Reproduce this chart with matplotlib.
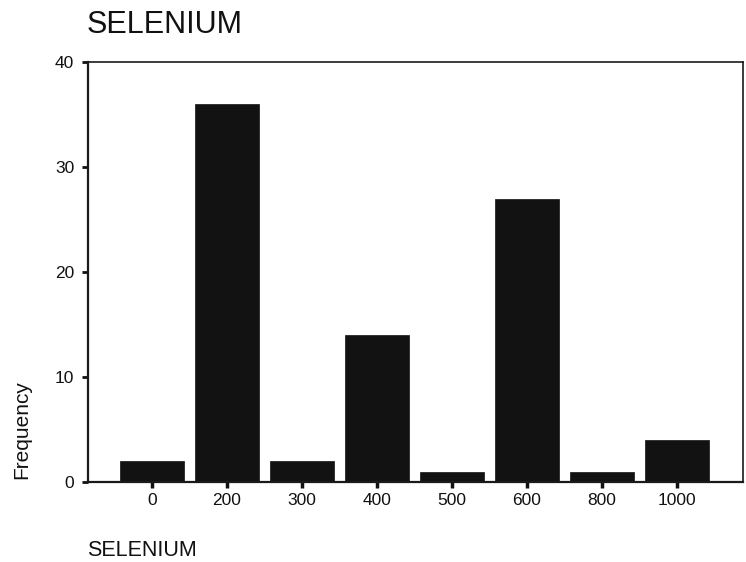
import matplotlib
matplotlib.use("Agg")
import matplotlib.pyplot as plt

categories = ["0", "200", "300", "400", "500", "600", "800", "1000"]
frequencies = [2, 36, 2, 14, 1, 27, 1, 4]
y_ticks = [0, 10, 20, 30, 40]

plt.rcParams['font.family'] = ['Liberation Sans', 'DejaVu Sans']

fig = plt.figure(figsize=(7.46, 5.62), dpi=100)
W, H = 746, 562
ax = fig.add_axes([88 / W, 1 - 482 / H, (743 - 88) / W, (482 - 62) / H])

x = list(range(len(categories)))
ax.bar(x, frequencies, width=0.85, color='#121212', edgecolor='#121212', linewidth=0.5)

ax.set_xlim(-0.853, 7.88)
ax.set_ylim(0, 40)
ax.set_xticks(x)
ax.set_xticklabels(categories, fontsize=12.5)
ax.set_yticks(y_ticks)
ax.set_yticklabels([str(t) for t in y_ticks], fontsize=12.5)

for side in ['left', 'bottom']:
    ax.spines[side].set_linewidth(1.6)
for side in ['top', 'right']:
    ax.spines[side].set_linewidth(1.2)
for s in ax.spines.values():
    s.set_color('#1a1a1a')

ax.tick_params(axis='x', direction='out', length=4, width=2.5, pad=4, colors='#111111')
ax.tick_params(axis='y', direction='out', length=4, width=2, pad=6, colors='#111111')

fig.text(87 / W, 1 - 25 / H, "SELENIUM", fontsize=22, ha='left', va='center', color='#111111')
fig.text(87 / W, 1 - 550 / H, "SELENIUM", fontsize=15.5, ha='left', va='center', color='#111111')
fig.text(22 / W, 1 - 430 / H, "Frequency", fontsize=15, rotation=90, ha='center', va='center', color='#111111')

fig.savefig("out.png", dpi=100, facecolor='white')
